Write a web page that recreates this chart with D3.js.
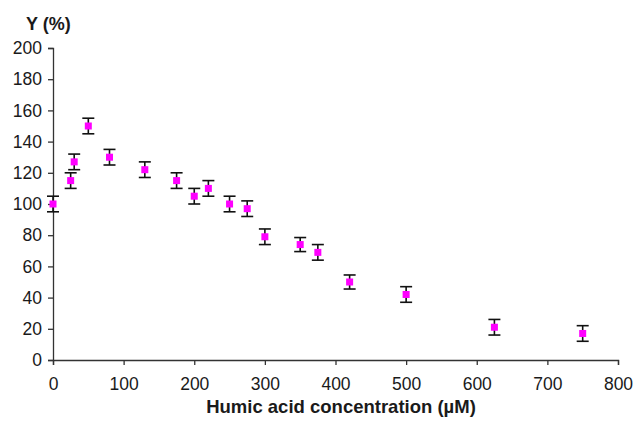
<!DOCTYPE html>
<html>
<head>
<meta charset="utf-8">
<script src="https://cdn.jsdelivr.net/npm/d3@7"></script>
<style>
  body { margin: 0; background: #fff; }
  text { font-family: "Liberation Sans", Arial, sans-serif; fill: #1a1a1a; }
</style>
</head>
<body>
<div id="chart"></div>
<script>
var w = 637;
var h = 425;

// data
var conc = [0, 25, 30, 50, 80, 130, 175, 200, 220, 250, 275, 300, 350, 375, 420, 500, 625, 750];
var yield_ = [100, 115, 127, 150, 130, 122, 115, 105, 110, 100, 97, 79, 74, 69, 50, 42, 21, 17];
var err = [5, 5, 5, 5, 5, 5, 5, 5, 5, 5, 5, 5, 4.5, 5, 4.5, 5, 5, 5];
var xTicks = [0, 100, 200, 300, 400, 500, 600, 700, 800];
var yTicks = [0, 20, 40, 60, 80, 100, 120, 140, 160, 180, 200];

var x = d3.scaleLinear().domain([0, 800]).range([53, 618]);
var y = d3.scaleLinear().domain([0, 200]).range([360, 48]);

var svg = d3.select("#chart")
    .append("svg")
    .attr("width", w)
    .attr("height", h);

var xAxis = svg.append("g")
    .attr("transform", "translate(0," + y(0) + ")")
    .call(d3.axisBottom(x).tickValues(xTicks).tickSize(5).tickPadding(13));

var yAxis = svg.append("g")
    .attr("transform", "translate(" + x(0) + ",0)")
    .call(d3.axisLeft(y).tickValues(yTicks).tickSize(5).tickPadding(6));

[xAxis, yAxis].forEach(function(g) {
    g.select(".domain").attr("stroke", "#333").attr("stroke-width", 1.3);
    g.selectAll(".tick line").attr("stroke", "#333").attr("stroke-width", 1.3);
    g.selectAll(".tick text")
        .style("font-size", "17.5px")
        .style("font-family", "Liberation Sans, Arial, sans-serif")
        .attr("fill", "#1a1a1a");
});

var pts = conc.map(function(c, i) {
    return { x: c, y: yield_[i], e: err[i] };
});

// error bars
var bars = svg.selectAll("g.err")
    .data(pts)
    .enter()
    .append("g")
    .attr("class", "err")
    .attr("stroke", "#111")
    .attr("stroke-width", 1.6);

bars.append("line")
    .attr("x1", function(d) { return x(d.x); })
    .attr("x2", function(d) { return x(d.x); })
    .attr("y1", function(d) { return y(d.y + d.e); })
    .attr("y2", function(d) { return y(d.y - d.e); });

bars.append("line")
    .attr("x1", function(d) { return x(d.x) - 6; })
    .attr("x2", function(d) { return x(d.x) + 6; })
    .attr("y1", function(d) { return y(d.y + d.e); })
    .attr("y2", function(d) { return y(d.y + d.e); });

bars.append("line")
    .attr("x1", function(d) { return x(d.x) - 6; })
    .attr("x2", function(d) { return x(d.x) + 6; })
    .attr("y1", function(d) { return y(d.y - d.e); })
    .attr("y2", function(d) { return y(d.y - d.e); });

// markers
svg.selectAll("rect.pt")
    .data(pts)
    .enter()
    .append("rect")
    .attr("class", "pt")
    .attr("x", function(d) { return x(d.x) - 3.5; })
    .attr("y", function(d) { return y(d.y) - 3.5; })
    .attr("width", 7)
    .attr("height", 7)
    .style("fill", "#ff00ff");

svg.append("text")
    .attr("x", 26)
    .attr("y", 30)
    .style("font-size", "18px")
    .style("font-weight", "bold")
    .text("Y (%)");

svg.append("text")
    .attr("x", 341)
    .attr("y", 413)
    .attr("text-anchor", "middle")
    .style("font-size", "18.5px")
    .style("font-weight", "bold")
    .text("Humic acid concentration (µM)");
</script>
</body>
</html>
